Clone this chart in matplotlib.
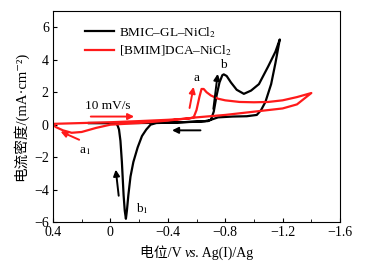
import matplotlib
matplotlib.use("Agg")
import matplotlib.pyplot as plt
from matplotlib.offsetbox import TextArea, HPacker, AnchoredOffsetbox

plt.rcParams['font.family'] = ['Liberation Serif', 'Noto Sans CJK SC', 'DejaVu Serif']
plt.rcParams['mathtext.fontset'] = 'stix'

# BMIC-GL-NiCl2 (black), scan toward negative then back
blk_fwd_E = [0.15, 0.0, -0.2, -0.4, -0.6, -0.68, -0.70, -0.72, -0.74, -0.76, -0.78, -0.79,
             -0.81, -0.84, -0.88, -0.93, -0.98, -1.035, -1.1, -1.15, -1.18]
blk_fwd_i = [0.1, 0.1, 0.1, 0.12, 0.18, 0.22, 0.3, 0.8, 1.8, 2.6, 3.05, 3.1,
             3.0, 2.6, 2.15, 1.9, 2.1, 2.5, 3.6, 4.5, 5.25]
blk_rev_E = [-1.18, -1.15, -1.12, -1.08, -1.05, -1.02, -0.95, -0.85, -0.75, -0.70, -0.66,
             -0.5, -0.32, -0.28, -0.25, -0.22, -0.19, -0.16, -0.14, -0.125, -0.115, -0.108,
             -0.1, -0.092, -0.08, -0.07, -0.06, -0.05, -0.04, 0.0, 0.15]
blk_rev_i = [5.25, 3.8, 2.5, 1.4, 0.9, 0.6, 0.52, 0.5, 0.45, 0.3, 0.22,
             0.15, 0.1, 0.0, -0.3, -0.7, -1.4, -2.3, -3.2, -4.35, -5.3, -5.8,
             -5.3, -4.35, -2.3, -1.0, -0.3, -0.05, 0.08, 0.1, 0.1]

# [BMIM]DCA-NiCl2 (red)
red_fwd_E = [0.4, 0.2, 0.0, -0.2, -0.4, -0.55, -0.58, -0.60, -0.62, -0.635, -0.65, -0.67,
             -0.70, -0.75, -0.8, -0.9, -1.0, -1.1, -1.2, -1.3, -1.4]
red_fwd_i = [0.05, 0.1, 0.15, 0.22, 0.3, 0.38, 0.45, 0.9, 1.7, 2.2, 2.2, 2.0,
             1.8, 1.6, 1.5, 1.4, 1.38, 1.4, 1.5, 1.7, 1.95]
red_rev_E = [-1.4, -1.3, -1.2, -1.0, -0.8, -0.6, -0.4, -0.2, 0.0, 0.1, 0.2, 0.27,
             0.33, 0.38, 0.4]
red_rev_i = [1.95, 1.25, 1.0, 0.8, 0.6, 0.45, 0.25, 0.1, 0.0, -0.2, -0.45, -0.5,
             -0.35, -0.15, 0.0]

fig = plt.figure(figsize=(3.68, 2.64), dpi=100)
ax = fig.add_axes([0.144, 0.159, 0.78, 0.799])

ax.plot(blk_fwd_E + blk_rev_E, blk_fwd_i + blk_rev_i, color='black', lw=1.6,
        label='BMIC–GL–NiCl$_2$')
ax.plot(red_fwd_E + red_rev_E, red_fwd_i + red_rev_i, color='#ff1a1a', lw=1.6,
        label='[BMIM]DCA–NiCl$_2$')

ax.set_xlim(0.4, -1.6)
ax.set_ylim(-6, 7)
ax.set_xticks([0.4, 0, -0.4, -0.8, -1.2, -1.6])
ax.set_xticklabels(['0.4', '0', '−0.4', '−0.8', '−1.2', '−1.6'])
ax.set_xticks([0.2, -0.2, -0.6, -1.0, -1.4], minor=True)
ax.set_yticks([-6, -4, -2, 0, 2, 4, 6])
ax.set_yticklabels(['−6', '−4', '−2', '0', '2', '4', '6'])
ax.tick_params(direction='in', length=3, labelsize=10, pad=3)
ax.tick_params(which='minor', direction='in', length=2)

ax.set_ylabel('电流密度/(mA·cm⁻²)', fontsize=10.5, labelpad=4)

# x label with italic "vs."
parts = [TextArea('电位/V ', textprops=dict(fontsize=10)),
         TextArea('vs.', textprops=dict(fontsize=10, fontstyle='italic')),
         TextArea(' Ag(I)/Ag', textprops=dict(fontsize=10))]
xlab = AnchoredOffsetbox(loc='center', child=HPacker(children=parts, align='baseline', pad=0, sep=0),
                         bbox_to_anchor=(0.534, 0.04), bbox_transform=fig.transFigure,
                         frameon=False, pad=0, borderpad=0)
fig.add_artist(xlab)

ax.legend(loc='upper left', bbox_to_anchor=(0.07, 0.99), frameon=False,
          fontsize=9.5, handlelength=2.2, handletextpad=0.4, labelspacing=0.3)

# annotation arrows
arr = dict(arrowstyle='-|>', lw=1.4, mutation_scale=9)
ax.annotate('', xy=(-0.185, 0.5), xytext=(0.156, 0.5),
            arrowprops=dict(arr, color='#ff1a1a'))
ax.text(0.175, 1.17, '10 mV/s', fontsize=9.5, va='center')
ax.annotate('', xy=(0.365, -0.35), xytext=(0.2, -1.0),
            arrowprops=dict(arr, color='#ff1a1a'))
ax.annotate('', xy=(-0.583, 2.5), xytext=(-0.548, 0.86),
            arrowprops=dict(arr, color='#ff1a1a'))
ax.annotate('', xy=(-0.75, 3.3), xytext=(-0.715, 0.8),
            arrowprops=dict(arr, color='black'))
ax.annotate('', xy=(-0.035, -2.6), xytext=(-0.06, -4.55),
            arrowprops=dict(arr, color='black'))
ax.annotate('', xy=(-0.41, -0.35), xytext=(-0.647, -0.35),
            arrowprops=dict(arr, color='black'))

ax.text(0.18, -1.6, 'a$_1$', fontsize=9.5, ha='center', va='center')
ax.text(-0.22, -5.2, 'b$_1$', fontsize=9.5, ha='center', va='center')
ax.text(-0.60, 2.85, 'a', fontsize=9.5, ha='center', va='center')
ax.text(-0.79, 3.65, 'b', fontsize=9.5, ha='center', va='center')

fig.savefig('out.png', dpi=100)
